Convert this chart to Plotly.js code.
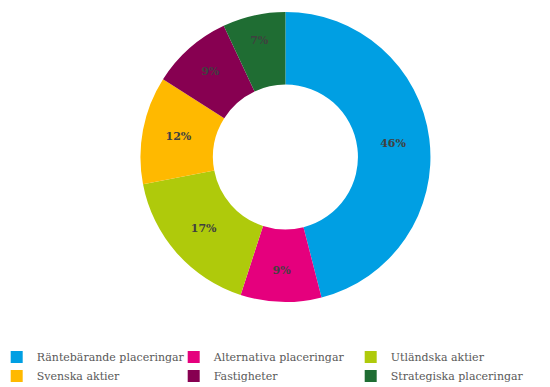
<!DOCTYPE html>
<html>
<head>
<meta charset="utf-8">
<script src="https://cdn.plot.ly/plotly-3.0.1.min.js"></script>
<style>html,body{margin:0;padding:0;background:#fff}#chart{width:550px;height:387px}</style>
</head>
<body>
<div id="chart"></div>
<script>
var categories = ["Räntebärande placeringar", "Alternativa placeringar", "Utländska aktier", "Svenska aktier", "Fastigheter", "Strategiska placeringar"];
var shares = [46, 9, 17, 12, 9, 7];
var sliceColors = ["#009FE3", "#E5007D", "#AFCA0B", "#FFB900", "#870051", "#1F6D33"];

var trace = {
  type: "pie",
  labels: categories,
  values: shares,
  hole: 0.5,
  sort: false,
  direction: "clockwise",
  rotation: 0,
  marker: {colors: sliceColors, line: {width: 0}},
  textinfo: "percent",
  texttemplate: "%{percent:.0%}",
  textposition: "inside",
  insidetextorientation: "horizontal",
  insidetextfont: {family: "DejaVu Serif", size: 11, color: "#404040", weight: "bold"},
  domain: {x: [0.038, 1], y: [0, 1]},
  hoverinfo: "label+percent"
};

var layout = {
  width: 550, height: 387,
  margin: {l: 0, r: 0, t: 12, b: 85, autoexpand: false},
  paper_bgcolor: "#fff",
  showlegend: true,
  legend: {
    orientation: "h",
    x: -0.006, xanchor: "left",
    y: -0.14, yanchor: "top",
    entrywidth: 132, entrywidthmode: "pixels",
    itemwidth: 30,
    font: {family: "DejaVu Serif", size: 11, color: "#595959"},
    traceorder: "normal"
  }
};

Plotly.newPlot("chart", [trace], layout, {staticPlot: true, displayModeBar: false});
</script>
</body>
</html>
